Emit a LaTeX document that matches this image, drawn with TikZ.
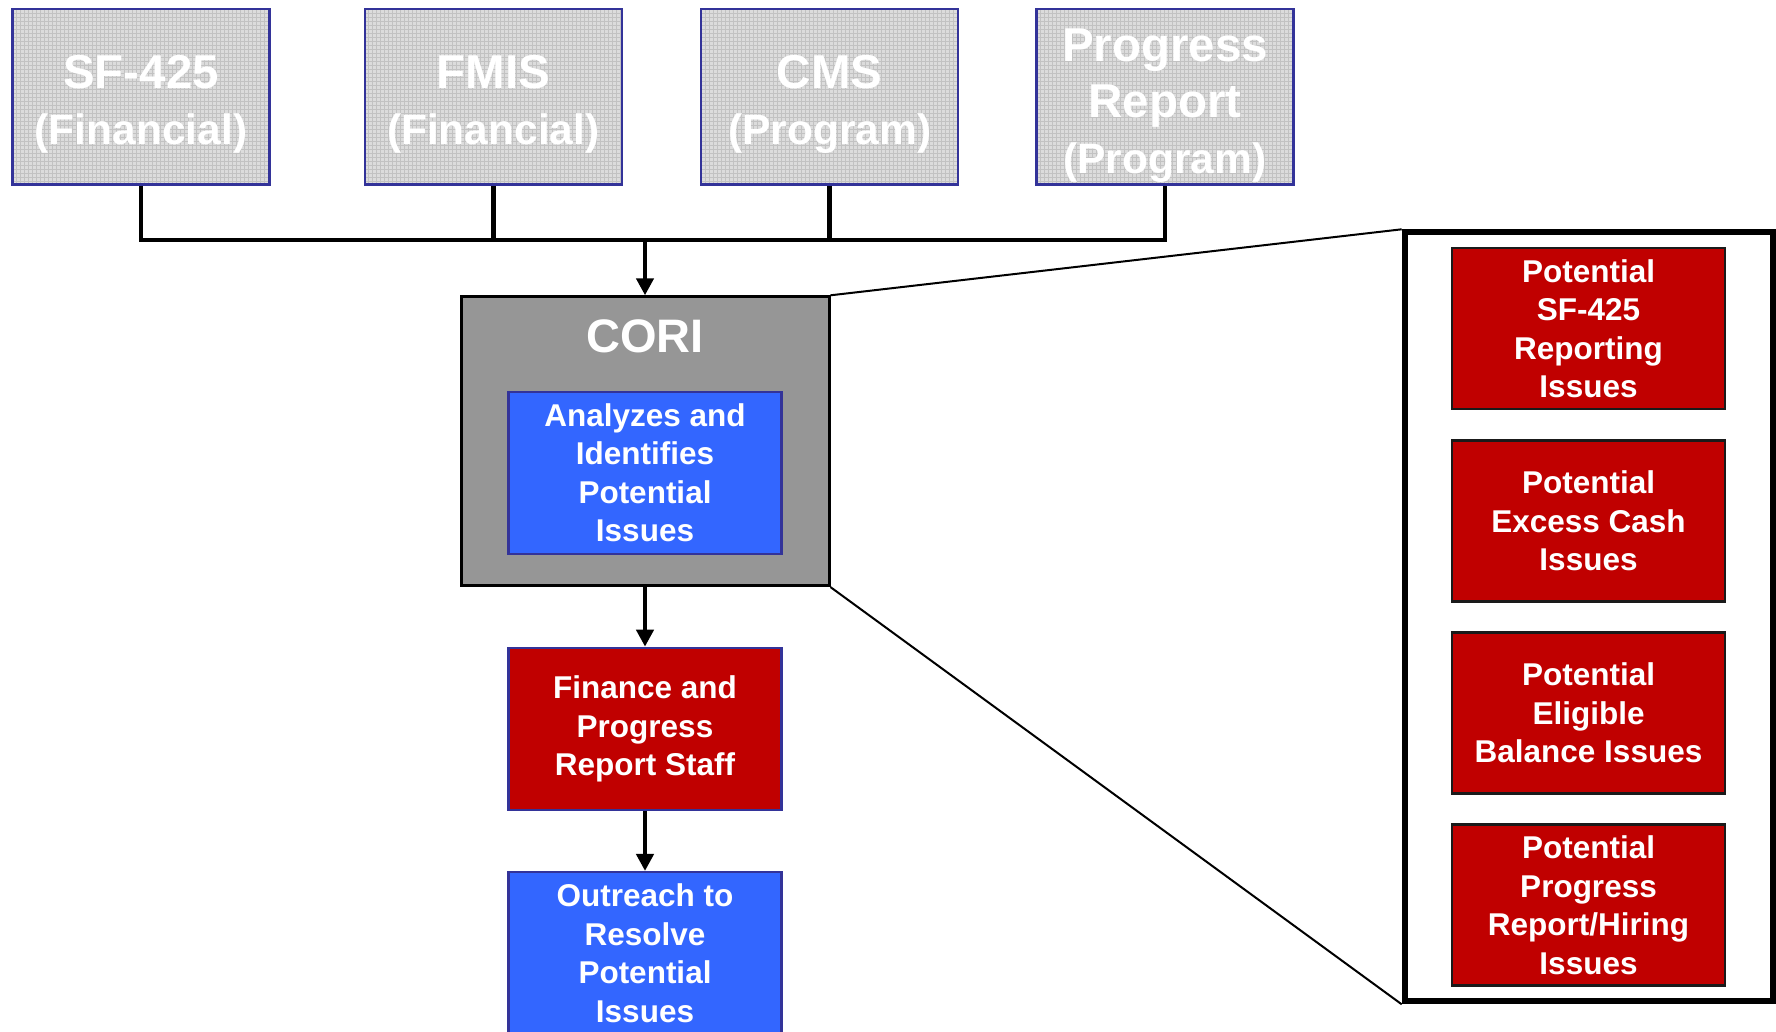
\documentclass[tikz,border=0pt]{standalone}
\usepackage{fontspec}
\setmainfont{Liberation Sans}
\usetikzlibrary{arrows.meta}
\definecolor{topfill}{HTML}{DCDCDC}
\definecolor{topgrid}{HTML}{C2C2C2}
\definecolor{navy}{HTML}{333399}
\definecolor{coriGray}{HTML}{969696}
\definecolor{boxBlue}{HTML}{3366FF}
\definecolor{boxRed}{HTML}{C00000}
\definecolor{darkEdge}{HTML}{1A1A1A}
\newcommand{\bigline}[1]{{\fontsize{47.5}{56}\selectfont #1}}
\newcommand{\smallline}[1]{{\fontsize{42.5}{56}\selectfont #1}}
\tikzset{
  srcbox/.style={draw=navy, line width=2.5pt, minimum width=257pt, minimum height=175.6pt,
     inner sep=0pt},
  srctext/.style={inner sep=0pt, align=center, text=white, font=\fontsize{47.5}{56}\selectfont\bfseries},
  bluebox/.style={draw=navy, fill=boxBlue, line width=2.5pt, minimum width=273pt, minimum height=162pt,
     inner sep=0pt, align=center, text=white, font=\fontsize{31.5}{38.5}\selectfont\bfseries},
  redbox/.style={draw=navy, fill=boxRed, line width=2.5pt, minimum width=273pt, minimum height=162pt,
     inner sep=0pt, align=center, text=white, font=\fontsize{31.5}{38.5}\selectfont\bfseries},
  issuebox/.style={redbox, draw=darkEdge, minimum height=161pt},
  bus/.style={line width=4.5pt, draw=black, line join=miter},
  arrowline/.style={bus, -{Triangle[length=17pt,width=17pt]}},
  thinline/.style={line width=2pt, draw=black},
}
\begin{document}
\begin{tikzpicture}[x=1pt,y=-1pt]
\useasboundingbox (0,0) rectangle (1776,1031);
\fill[white] (0,0) rectangle (1776,1031);
% textured source boxes
\foreach \cx in {141,493.3,829.7,1165}{
  \fill[topfill] (\cx-128.5,9) rectangle (\cx+128.5,184.6);
  \begin{scope}
    \clip (\cx-128.5,9) rectangle (\cx+128.5,184.6);
    \foreach \k in {0,4,...,260}{
      \draw[topgrid, line width=0.7pt] (\cx-128.5+\k,9) -- (\cx-128.5+\k,184.6);
    }
    \foreach \k in {0,4,...,176}{
      \draw[topgrid, line width=0.7pt] (\cx-128.5,9+\k) -- (\cx+128.5,9+\k);
    }
  \end{scope}
}
\node[srcbox] (sf) at (141,96.8) {};
\node[srcbox] (fmis) at (493.3,96.8) {};
\node[srcbox] (cms) at (829.7,96.8) {};
\node[srcbox] (pr) at (1165,96.8) {};
\node[srctext] (sfT) at (141,104) {\bigline{SF-425}\\\smallline{(Financial)}};
\node[srctext] (fmisT) at (493.3,104) {\bigline{FMIS}\\\smallline{(Financial)}};
\node[srctext] (cmsT) at (829.7,104) {\bigline{CMS}\\\smallline{(Program)}};
\node[srctext] (prT) at (1165,106) {\bigline{Progress}\\\bigline{Report}\\\smallline{(Program)}};
% CORI
\node[draw=black, fill=coriGray, line width=3pt, minimum width=368pt, minimum height=288.8pt, inner sep=0pt] (cori) at (645,441.2) {};
\node[text=white, font=\fontsize{47}{55}\selectfont\bfseries, inner sep=0pt] (coriT) at (645,336.5) {CORI};
\node[bluebox] (inner) at (645,472.9) {Analyzes and\\Identifies\\Potential\\Issues};
\node[redbox] (fin) at (645,728.9) {Finance and\\Progress\\Report Staff};
\node[bluebox] (out) at (645,953.2) {Outreach to\\Resolve\\Potential\\Issues};
% right panel
\node[draw=black, line width=6pt, minimum width=368pt, minimum height=769pt, inner sep=0pt] (panel) at (1588.7,616.8) {};
\node[issuebox] (i1) at (1588.5,328.6) {Potential\\SF-425\\Reporting\\Issues};
\node[issuebox] (i2) at (1588.5,520.8) {Potential\\Excess Cash\\Issues};
\node[issuebox] (i3) at (1588.5,713) {Potential\\Eligible\\Balance Issues};
\node[issuebox] (i4) at (1588.5,905.2) {Potential\\Progress\\Report/Hiring\\Issues};
% connectors
\coordinate (j) at (645,240);
\draw[bus] (sf.south) -- (sf.south |- j) -- (pr.south |- j) -- (pr.south);
\draw[bus] (fmis.south) -- (fmis.south |- j);
\draw[bus] (cms.south) -- (cms.south |- j);
\draw[arrowline] ([yshift=-2pt]j) -- (cori.north);
\draw[arrowline] (cori.south) -- (fin.north);
\draw[arrowline] (fin.south) -- (out.north);
\draw[thinline] (cori.north east) -- (panel.north west);
\draw[thinline] (cori.south east) -- (panel.south west);
\end{tikzpicture}
\end{document}
